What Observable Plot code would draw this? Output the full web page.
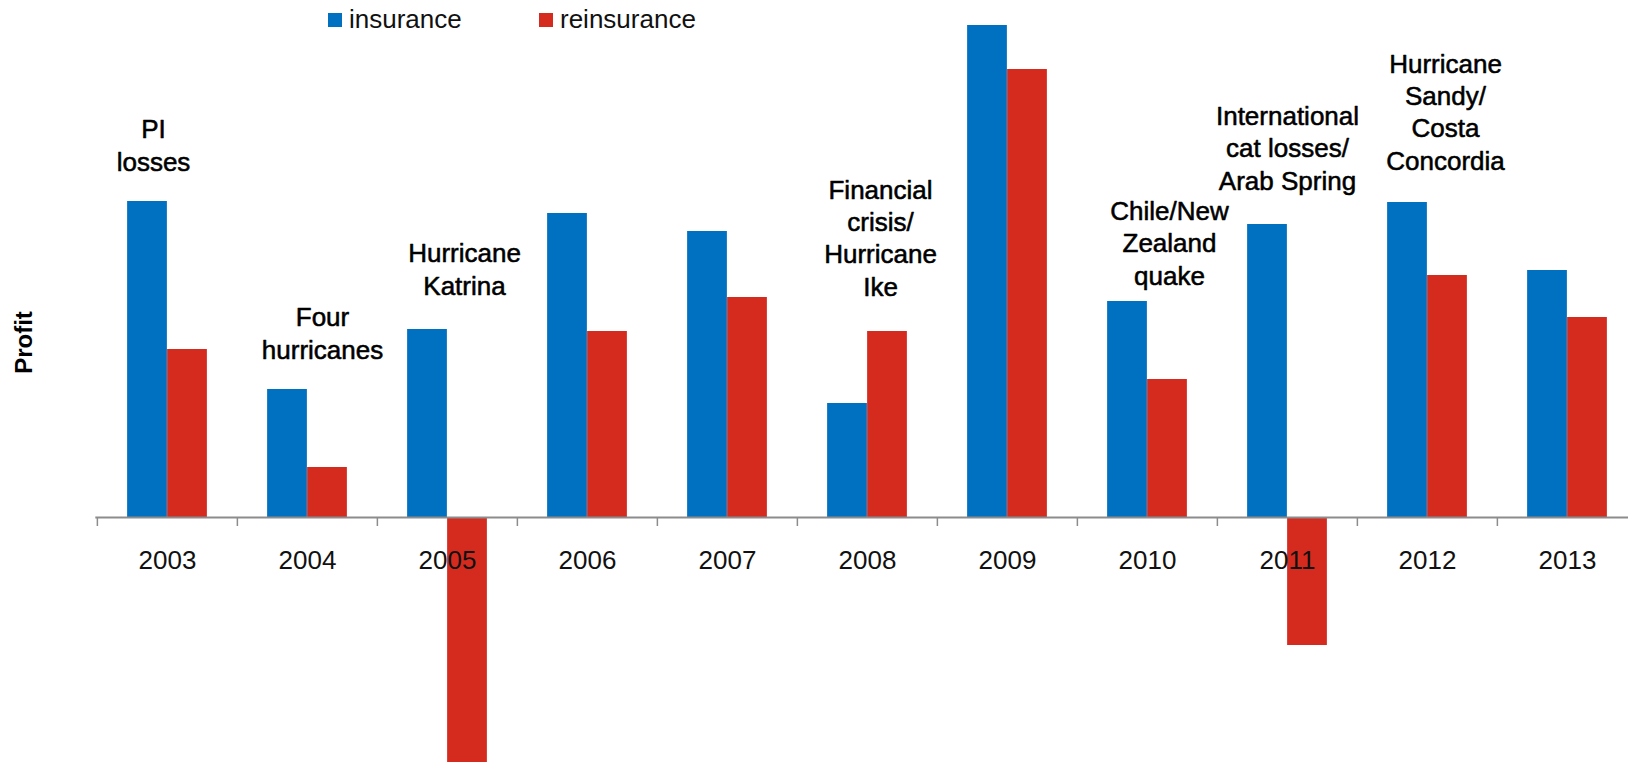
<!DOCTYPE html>
<html>
<head>
<meta charset="utf-8">
<script src="https://cdn.jsdelivr.net/npm/d3@7"></script>
<script src="https://cdn.jsdelivr.net/npm/@observablehq/plot@0.6"></script>
<style>
  html, body { margin: 0; padding: 0; background: #fff; overflow: hidden; }
  #wrap { position: relative; width: 1628px; height: 762px; }
  #legend { position: absolute; left: 0; top: 0; font-family: "Liberation Sans", Arial, sans-serif; font-size: 26px; color: #111; }
  .sw { position: absolute; top: 13px; width: 14px; height: 14px; }
  .lab { position: absolute; top: 6px; white-space: nowrap; line-height: 1; }
</style>
</head>
<body>
<div id="wrap">
  <div id="legend"></div>
</div>
<script>
// Underwriting profit by year, insurance vs reinsurance (relative units)
const years = ["2003","2004","2005","2006","2007","2008","2009","2010","2011","2012","2013"];
const insurance   = [15.8, 6.4, 9.4, 15.2, 14.3, 5.7, 24.6, 10.8, 14.65, 15.75, 12.35];
const reinsurance = [8.4, 2.5, -14.0, 9.3, 11.0, 9.3, 22.4, 6.9, -6.4, 12.1, 10.0];
const series = ["insurance", "reinsurance"];
const colors = ["#0070C0", "#D52B1F"];

// Loss events noted above each year
const noteYears = ["2003","2004","2005","2008","2010","2011","2012"];
const noteTexts = [
  "PI\nlosses",
  "Four\nhurricanes",
  "Hurricane\nKatrina",
  "Financial\ncrisis/\nHurricane\nIke",
  "Chile/New\nZealand\nquake",
  "International\ncat losses/\nArab Spring",
  "Hurricane\nSandy/\nCosta\nConcordia"
];
// Hand nudges (px) so each note sits clear of its bars
const noteNudge = [[-14, -31], [15, -31], [17, -35], [13, -36], [22, -17], [0, -35], [18, -33]];

const rows = years.flatMap((year, i) => [
  {year, series: "insurance", value: insurance[i]},
  {year, series: "reinsurance", value: reinsurance[i]}
]);
const notes = noteYears.map((year, i) => {
  const k = years.indexOf(year);
  return {year, text: noteTexts[i], top: Math.max(insurance[k], reinsurance[k]), nudge: noteNudge[i]};
});

const W = 1628, H = 762;
const left = 95.3, right = 1638;          // category band runs a little past the right edge
const band = (right - left) / years.length;
const barW = 40;
const font = "'Liberation Sans', Arial, Helvetica, sans-serif";
const axisGray = "#8c8c8c";

const barFor = (name, shift) => Plot.barY(rows.filter(d => d.series === name), {
  x: "year", y: "value",
  fill: colors[series.indexOf(name)],
  insetLeft: (band - barW) / 2, insetRight: (band - barW) / 2,
  dx: shift
});

const noteMarks = notes.map(n => Plot.text([n], {
  x: "year", y: "top", text: "text",
  lineAnchor: "bottom", lineHeight: 1.24, dx: n.nudge[0], dy: n.nudge[1],
  fontSize: 26, fill: "#000", stroke: "#000", strokeWidth: 0.55
}));

const chart = Plot.plot({
  width: W, height: H,
  marginLeft: left, marginRight: W - right, marginTop: 0, marginBottom: 0,
  style: {background: "transparent", fontFamily: font},
  x: {type: "band", domain: years, padding: 0, axis: null},
  y: {domain: [-12.25, 25.85], axis: null},
  marks: [
    barFor("insurance", -barW / 2),
    barFor("reinsurance", barW / 2),
    Plot.ruleY([0], {stroke: axisGray, strokeWidth: 2}),
    Plot.ruleX(years, {x: d => d, dx: -band / 2, y1: 0, y2: -0.45, stroke: axisGray, strokeWidth: 1.5}),
    Plot.text(years, {x: d => d, y: d => 0, text: d => d, dy: 43.5, fontSize: 26, fill: "#111"}),
    ...noteMarks,
    Plot.text(["Profit"], {
      frameAnchor: "left", textAnchor: "middle", rotate: -90, dx: 24 - left, dy: -39,
      fontSize: 24, fontWeight: "bold", fill: "#000"
    })
  ]
});

const wrap = document.getElementById("wrap");
wrap.insertBefore(chart, wrap.firstChild);

// Legend across the top
const legend = document.getElementById("legend");
const keyPos = [[328, 349], [539, 560]];
series.forEach((name, i) => {
  const sw = document.createElement("div");
  sw.className = "sw";
  sw.style.left = keyPos[i][0] + "px";
  sw.style.background = colors[i];
  const lab = document.createElement("div");
  lab.className = "lab";
  lab.style.left = keyPos[i][1] + "px";
  lab.textContent = name;
  legend.appendChild(sw);
  legend.appendChild(lab);
});
</script>
</body>
</html>
